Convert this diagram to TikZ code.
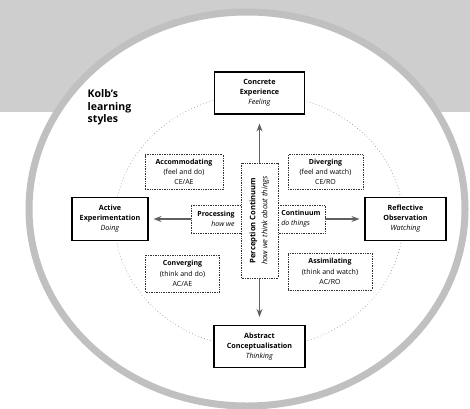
\documentclass[tikz,border=0pt]{standalone}
\usepackage{fontspec}
\setmainfont{Open Sans}
\usetikzlibrary{arrows.meta}
\definecolor{fondo}{RGB}{206,206,206}
\definecolor{anillo}{RGB}{192,192,192}
\definecolor{puntos}{RGB}{150,150,150}

\begin{document}
\begin{tikzpicture}[x=1pt, y=-1pt, >=Stealth, line width=0.8pt,
    polo/.style={draw=black, line width=1.1pt, fill=white, align=center, inner sep=1pt,
      font=\fontsize{7.2}{10}\selectfont},
    estilo/.style={draw=black!80, densely dotted, line width=0.7pt, fill=white, align=center, inner sep=1pt,
      font=\fontsize{7}{10.3}\selectfont},
    flecha/.style={->, gray!75!black, line width=1.1pt}]
    \useasboundingbox (0,0) rectangle (470,408);
    % fondo y anillo
    \fill[fondo] (0,0) rectangle (470,112);
    \fill[white] (247,209) ellipse [x radius=218, y radius=197];
    \draw[anillo, line width=7pt] (247,209) ellipse [x radius=218, y radius=197];
    \draw[puntos, line width=0.9pt, line cap=round, dash pattern=on 0pt off 3.2pt] (259,221) ellipse [x radius=144, y radius=127];
    \node[anchor=north west, align=left, font=\fontsize{10.5}{12.5}\selectfont\bfseries] (titulo) at (84,86) {Kolb's\\learning\\styles};
    % polos
    \node[polo, minimum width=90, minimum height=42] (conc) at (259.5,93) {\textbf{Concrete}\\\textbf{Experience}\\\textit{Feeling}};
    \node[polo, minimum width=91, minimum height=42] (abst) at (259.5,346.5) {\textbf{Abstract}\\\textbf{Conceptualisation}\\\textit{Thinking}};
    \node[polo, minimum width=76, minimum height=43] (actv) at (110,219) {\textbf{Active}\\\textbf{Experimentation}\\\textit{Doing}};
    \node[polo, minimum width=81, minimum height=43] (refl) at (405.5,219) {\textbf{Reflective}\\\textbf{Observation}\\\textit{Watching}};
    % estilos
    \node[estilo, minimum width=78, minimum height=35] (acco) at (184,172) {\textbf{Accommodating}\\(feel and do)\\CE/AE};
    \node[estilo, minimum width=75, minimum height=35] (dive) at (325.5,172) {\textbf{Diverging}\\(feel and watch)\\CE/RO};
    \node[estilo, minimum width=74, minimum height=37] (conv) at (182.5,273.5) {\textbf{Converging}\\(think and do)\\AC/AE};
    \node[estilo, minimum width=84, minimum height=37] (assi) at (330,271.5) {\textbf{Assimilating}\\(think and watch)\\AC/RO};
    % continuos
    \node[estilo, align=right, minimum width=50, minimum height=28] (proc) at (216,219) {\textbf{Processing}\\\textit{how we}};
    \node[estilo, align=left, minimum width=48, minimum height=28] (cont) at (301,219) {\textbf{Continuum}\\\textit{do things}};
    \node[estilo, rotate=90, minimum width=115, minimum height=37, font=\fontsize{7.6}{12}\selectfont] (perc) at (259.5,220.5) {\textbf{Perception Continuum}\\\textit{how we think about things}};
    \draw[flecha, shorten >=9pt] (perc) -- (conc);
    \draw[flecha, shorten >=8pt] (perc) -- (abst);
    \draw[flecha, shorten >=5pt] (proc) -- (actv);
    \draw[flecha, shorten >=5pt] (cont) -- (refl);
\end{tikzpicture}
\end{document}
